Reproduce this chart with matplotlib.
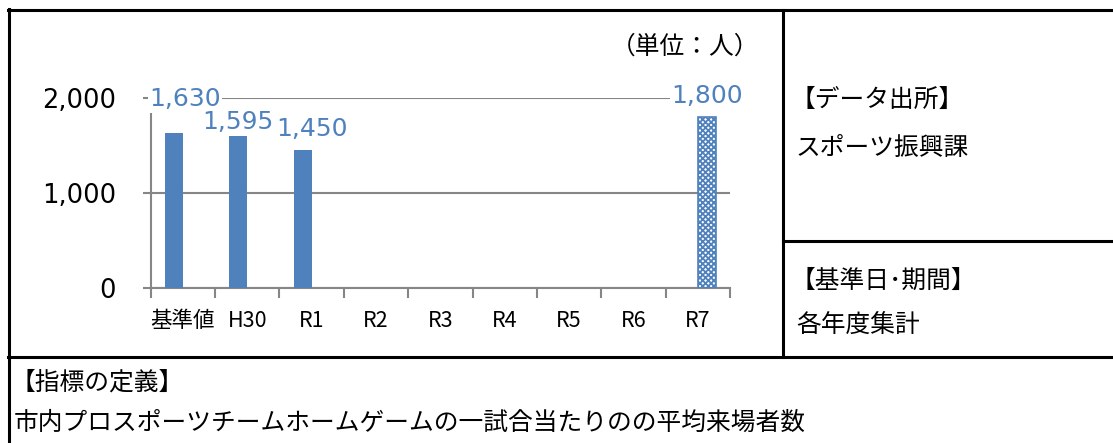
import numpy as np
import matplotlib
matplotlib.use("Agg")
import matplotlib.pyplot as plt
from matplotlib.lines import Line2D

JP = ["Noto Sans CJK JP", "DejaVu Sans"]
NUM = ["DejaVu Sans", "Noto Sans CJK JP"]

categories = ["基準値", "H30", "R1", "R2", "R3", "R4", "R5", "R6", "R7"]
actual = [1630, 1595, 1450, np.nan, np.nan, np.nan, np.nan, np.nan, np.nan]
target = [np.nan] * 8 + [1800]
yticks = [0, 1000, 2000]

# label nudges (pixels) so the value labels don't collide
actual_label_offsets = [(11, 34), (0, 14), (9, 21)]
target_label_offset = (0, 21)

BLUE = "#4F81BD"
GRID = "#868686"
W, H = 1113, 443
FS = 17.8

plt.rcParams["font.family"] = JP
plt.rcParams["hatch.linewidth"] = 1.3
plt.rcParams["hatch.color"] = BLUE

fig = plt.figure(figsize=(W / 100, H / 100), dpi=100)


def fx(px):
    return px / W


def fy(py):
    return 1 - py / H


# table frame
def hline(y, x0, x1, lw=2.2):
    fig.add_artist(Line2D([fx(x0), fx(x1)], [fy(y), fy(y)], color="black", lw=lw))


def vline(x, y0, y1, lw=2.2):
    fig.add_artist(Line2D([fx(x), fx(x)], [fy(y0), fy(y1)], color="black", lw=lw))


hline(10, 8, W)
hline(357, 8, W)
hline(241, 783, W)
vline(9, 9, H)
vline(783, 10, 357)

# chart area
ax_l, ax_r, ax_t, ax_b = 150.7, 730, 98, 288
ax = fig.add_axes([fx(ax_l), fy(ax_b), fx(ax_r - ax_l), fy(ax_t) - fy(ax_b)])

x = np.arange(len(categories))
bw = 0.28
ax.bar(x - bw / 2, actual, width=bw, color=BLUE, zorder=3)
ax.bar(x + bw / 2, target, width=bw, facecolor="white", edgecolor=BLUE,
       hatch="xxxxxx", linewidth=1.2, zorder=3)

ax.set_xlim(-0.5, len(categories) - 0.5)
ax.set_ylim(0, 2000)

for s in ["top", "right"]:
    ax.spines[s].set_visible(False)
for s in ["left", "bottom"]:
    ax.spines[s].set_color(GRID)
    ax.spines[s].set_linewidth(1.5)

ax.set_yticks(yticks)
ax.set_yticklabels([f"{v:,}" for v in yticks], fontsize=18.5, family=NUM)
ax.tick_params(axis="y", length=5.5, width=1.5, color=GRID, pad=19.5)
ax.yaxis.grid(True, color=GRID, linewidth=1.5, zorder=1)
ax.set_axisbelow(True)

ax.set_xticks(np.arange(len(categories) + 1) - 0.5)
ax.set_xticklabels([])
ax.tick_params(axis="x", which="major", length=7, width=1.5, color=GRID)
ax.set_xticks(x, minor=True)
ax.set_xticklabels(categories, minor=True, fontsize=15.5)
ax.tick_params(axis="x", which="minor", length=0, pad=16)

for i, (v, off) in enumerate(zip(actual[:3], actual_label_offsets)):
    ax.annotate(f"{v:,}", (x[i] - bw / 2, v), xytext=off, textcoords="offset pixels",
                ha="center", va="center", fontsize=18, family=NUM, color=BLUE,
                bbox=dict(facecolor="white", edgecolor="none", pad=1),
                zorder=4, annotation_clip=False)
ax.annotate(f"{target[8]:,}", (x[8] + bw / 2, target[8]), xytext=target_label_offset,
            textcoords="offset pixels", ha="center", va="center", fontsize=18,
            family=NUM, color=BLUE, bbox=dict(facecolor="white", edgecolor="none", pad=1),
            zorder=4, annotation_clip=False)

# side and footer text
fig.text(fx(759), fy(47), "（単位：人）", ha="right", va="center", fontsize=FS)
fig.text(fx(791), fy(100), "【データ出所】", ha="left", va="center", fontsize=FS)
fig.text(fx(796), fy(148), "スポーツ振興課", ha="left", va="center", fontsize=FS)
fig.text(fx(791), fy(281), "【基準日･期間】", ha="left", va="center", fontsize=FS)
fig.text(fx(796), fy(326), "各年度集計", ha="left", va="center", fontsize=FS)
fig.text(fx(11), fy(383), "【指標の定義】", ha="left", va="center", fontsize=FS)
fig.text(fx(14), fy(423), "市内プロスポーツチームホームゲームの一試合当たりのの平均来場者数",
         ha="left", va="center", fontsize=FS)

fig.savefig("out.png", dpi=100)
